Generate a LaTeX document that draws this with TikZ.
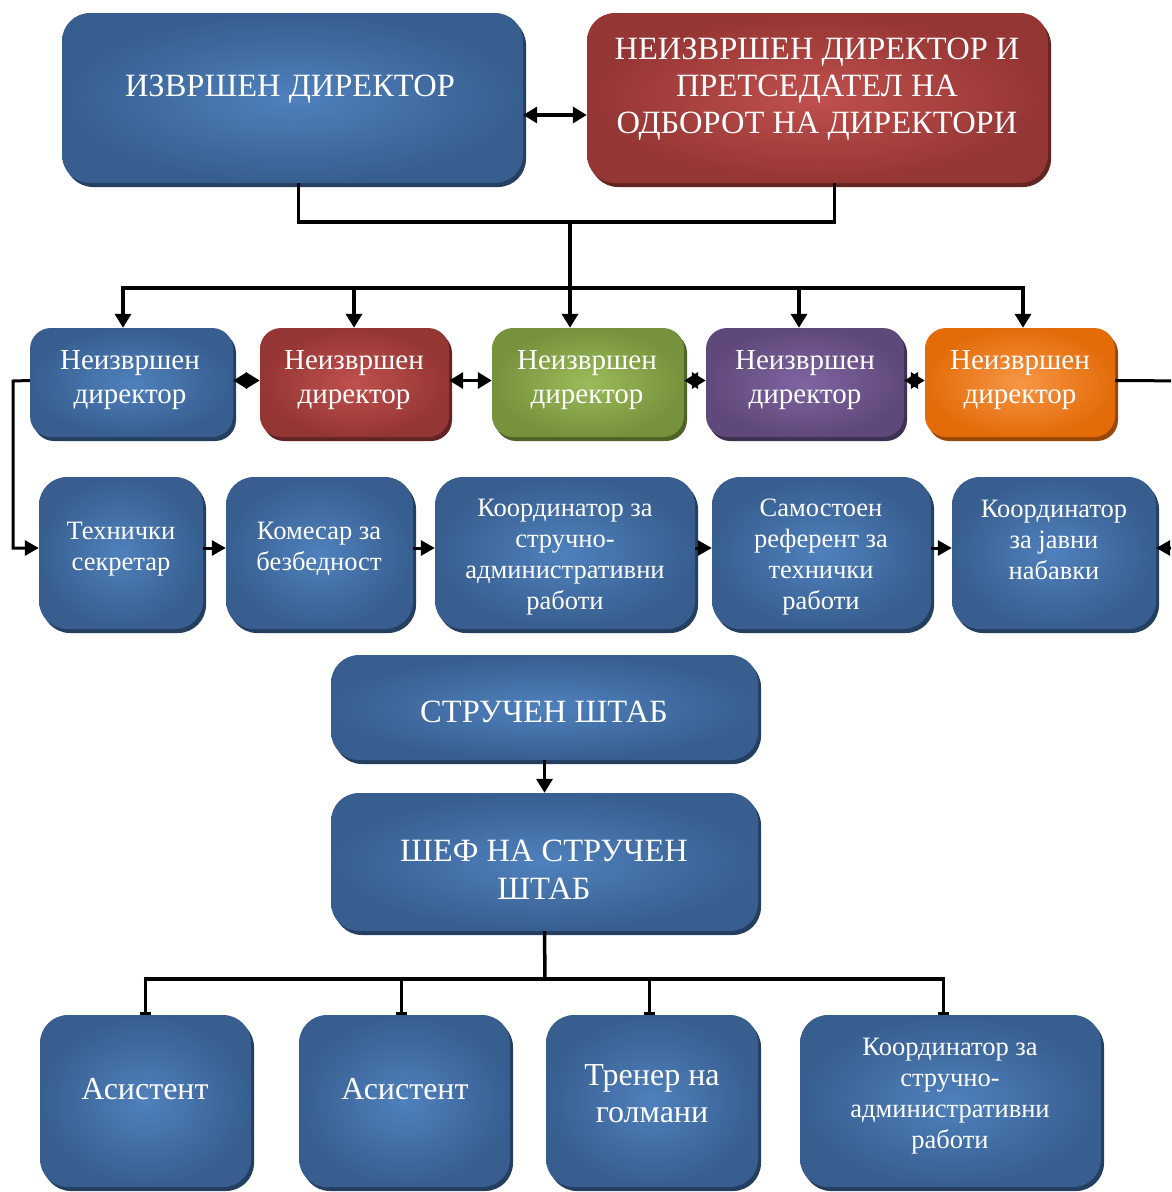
\documentclass[tikz,border=0pt]{standalone}
\usepackage{fontspec}
\setmainfont{Liberation Serif}
\usetikzlibrary{arrows.meta,shadows,calc}
\definecolor{bIn}{HTML}{4F81BD}
\definecolor{bOut}{HTML}{375E8F}
\definecolor{bSh}{HTML}{243F60}
\definecolor{rIn}{HTML}{C0504D}
\definecolor{rOut}{HTML}{943634}
\definecolor{rSh}{HTML}{632523}
\definecolor{gIn}{HTML}{9BBB59}
\definecolor{gOut}{HTML}{76923C}
\definecolor{gSh}{HTML}{4F6228}
\definecolor{pIn}{HTML}{8064A2}
\definecolor{pOut}{HTML}{5F497A}
\definecolor{pSh}{HTML}{3F3151}
\definecolor{oIn}{HTML}{F79646}
\definecolor{oOut}{HTML}{E36C09}
\definecolor{oSh}{HTML}{974806}
\tikzset{
  boxbase/.style={rectangle, rounded corners=28pt, inner sep=0pt},
  bluebox/.style={boxbase, inner color=bIn, outer color=bOut,
    drop shadow={shadow xshift=3pt, shadow yshift=-4pt, fill=bSh, opacity=1}},
  redbox/.style={boxbase, inner color=rIn, outer color=rOut,
    drop shadow={shadow xshift=3pt, shadow yshift=-4pt, fill=rSh, opacity=1}},
  greenbox/.style={boxbase, inner color=gIn, outer color=gOut,
    drop shadow={shadow xshift=3pt, shadow yshift=-4pt, fill=gSh, opacity=1}},
  purplebox/.style={boxbase, inner color=pIn, outer color=pOut,
    drop shadow={shadow xshift=3pt, shadow yshift=-4pt, fill=pSh, opacity=1}},
  orangebox/.style={boxbase, inner color=oIn, outer color=oOut,
    drop shadow={shadow xshift=3pt, shadow yshift=-4pt, fill=oSh, opacity=1}},
  dirbox/.style={rounded corners=21pt, minimum height=109pt},
  rowbox/.style={minimum height=152pt},
  botbox/.style={minimum height=172pt},
  txt/.style={text=white, align=center, inner sep=0pt},
  bigtxt/.style={txt, font=\fontsize{32.5}{37}\selectfont},
  dirtxt/.style={txt, font=\fontsize{29}{34}\selectfont},
  rowtxt/.style={txt, font=\fontsize{26.5}{31}\selectfont},
  conn/.style={line width=3.5pt},
  arr/.style={conn, -{Triangle[length=14pt,width=16pt]}},
  sarr/.style={line width=3pt, -{Triangle[length=14pt,width=15pt]}},
  darr/.style={conn, {Triangle[length=14pt,width=16pt]}-{Triangle[length=14pt,width=16pt]}},
  barr/.style={line width=3pt, -{Bar[width=11pt,line width=3pt]}}
}
\begin{document}
\begin{tikzpicture}[x=1pt,y=-1pt]
\path[use as bounding box] (0,0) rectangle (1171,1192);
\clip (0,0) rectangle (1171,1192);
% top boxes
\node[bluebox, minimum width=461pt, minimum height=170pt] (TL) at (292.5,98) {};
\node[redbox, minimum width=461pt, minimum height=170pt] (RD) at (817.5,98) {};
\node[bigtxt] (TLt) at (290,89) {ИЗВРШЕН ДИРЕКТОР};
\node[bigtxt] (RDt) at (817,89) {НЕИЗВРШЕН ДИРЕКТОР И\\ПРЕТСЕДАТЕЛ НА\\ОДБОРОТ НА ДИРЕКТОРИ};
% directors
\node[bluebox, dirbox, minimum width=203pt] (D1) at (131.5,382.5) {};
\node[redbox, dirbox, minimum width=189pt] (D2) at (354.5,382.5) {};
\node[greenbox, dirbox, minimum width=192pt] (D3) at (588,382.5) {};
\node[purplebox, dirbox, minimum width=198pt] (D4) at (805,382.5) {};
\node[orangebox, dirbox, minimum width=190pt] (D5) at (1020,382.5) {};
\node[dirtxt] (D1t) at (130,380) {Неизвршен\\директор};
\node[dirtxt] (D2t) at (354,380) {Неизвршен\\директор};
\node[dirtxt] (D3t) at (587,380) {Неизвршен\\директор};
\node[dirtxt] (D4t) at (805,380) {Неизвршен\\директор};
\node[dirtxt] (D5t) at (1020,380) {Неизвршен\\директор};
% second row
\node[bluebox, rowbox, minimum width=164pt] (S1) at (121,553) {};
\node[bluebox, rowbox, minimum width=187pt] (S2) at (319.5,553) {};
\node[bluebox, rowbox, minimum width=260pt] (S3) at (565,553) {};
\node[bluebox, rowbox, minimum width=219pt] (S4) at (821.5,553) {};
\node[bluebox, rowbox, minimum width=204pt] (S5) at (1054,553) {};
\node[rowtxt] (S1t) at (121,549) {Технички\\секретар};
\node[rowtxt] (S2t) at (319,549) {Комесар за\\безбедност};
\node[rowtxt] (S3t) at (565,557) {Координатор за\\стручно-\\административни\\работи};
\node[rowtxt] (S4t) at (821,557) {Самостоен\\референт за\\технички\\работи};
\node[rowtxt] (S5t) at (1054,540) {Координатор\\за јавни\\набавки};
% staff
\node[bluebox, minimum width=427pt, minimum height=105pt] (SC) at (544.5,707.5) {};
\node[bluebox, minimum width=427pt, minimum height=138pt] (SH) at (544.5,862) {};
\node[bigtxt] (SCt) at (544,712) {СТРУЧЕН ШТАБ};
\node[bigtxt, font=\fontsize{32.5}{38}\selectfont] (SHt) at (544,870) {ШЕФ НА СТРУЧЕН\\ШТАБ};
% bottom row
\node[bluebox, botbox, minimum width=211pt] (B1) at (145.5,1101) {};
\node[bluebox, botbox, minimum width=211pt] (B2) at (404.5,1101) {};
\node[bluebox, botbox, minimum width=212pt] (B3) at (652,1101) {};
\node[bluebox, botbox, minimum width=301pt] (B4) at (950.5,1101) {};
\node[txt, font=\fontsize{32}{37}\selectfont] (B1t) at (145,1089) {Асистент};
\node[txt, font=\fontsize{32}{37}\selectfont] (B2t) at (405,1089) {Асистент};
\node[txt, font=\fontsize{32}{37}\selectfont] (B3t) at (652,1094) {Тренер на\\голмани};
\node[txt, font=\fontsize{26.5}{31}\selectfont] (B4t) at (950,1096) {Координатор за\\стручно-\\административни\\работи};
% connectors top
\draw[darr] (TL.east |- 0,115) -- (RD.west |- 0,115);
\coordinate (j1) at (570,222);
\coordinate (b1) at (123,288);
\coordinate (b2) at (354,288);
\coordinate (b3) at (570,288);
\coordinate (b4) at (799,288);
\coordinate (b5) at (1023,288);
\draw[conn] ([xshift=6pt]TL.south) |- (j1) -| ([xshift=17pt]RD.south);
\draw[conn] (j1) -- (b3);
\draw[conn] ([xshift=-1.75pt]b1) -- ([xshift=1.75pt]b5);
\draw[arr] (b1) -- (b1 |- D1.north);
\draw[arr] (b2) -- (b2 |- D2.north);
\draw[arr] (b3) -- (b3 |- D3.north);
\draw[arr] (b4) -- (b4 |- D4.north);
\draw[arr] (b5) -- (b5 |- D5.north);
% between directors
\draw[darr] ([yshift=2pt]D1.east) -- ([yshift=2pt]D2.west);
\draw[darr] ([yshift=2pt]D2.east) -- ([yshift=2pt]D3.west);
\draw[darr] ([yshift=2pt]D3.east) -- ([yshift=2pt]D4.west);
\draw[darr] ([yshift=2pt]D4.east) -- ([yshift=2pt]D5.west);
% side connectors
\coordinate (lc) at (13,381);
\coordinate (rc) at (1195,381);
\draw[sarr] ([yshift=2pt]D1.west) -- (lc) |- ([yshift=5pt]S1.west);
\draw[sarr] ([yshift=2pt]D5.east) -- (rc) |- ([yshift=5pt]S5.east);
% second row
\draw[sarr] ([yshift=5pt]S1.east) -- ([yshift=5pt]S2.west);
\draw[sarr] ([yshift=5pt]S2.east) -- ([yshift=5pt]S3.west);
\draw[sarr] ([yshift=5pt]S3.east) -- ([yshift=5pt]S4.west);
\draw[sarr] ([yshift=5pt]S4.east) -- ([yshift=5pt]S5.west);
% staff
\draw[arr] (SC.south) -- (SH.north);
\coordinate (j3) at (545,979);
\coordinate (c1) at (145,979);
\coordinate (c2) at (401,979);
\coordinate (c3) at (649,979);
\coordinate (c4) at (943,979);
\draw[conn] (SH.south) -- (j3);
\draw[conn] ([xshift=-1.5pt]c1) -- ([xshift=1.5pt]c4);
\draw[barr] (c1) -- (c1 |- B1.north);
\draw[barr] (c2) -- (c2 |- B2.north);
\draw[barr] (c3) -- (c3 |- B3.north);
\draw[barr] (c4) -- (c4 |- B4.north);
\end{tikzpicture}
\end{document}
